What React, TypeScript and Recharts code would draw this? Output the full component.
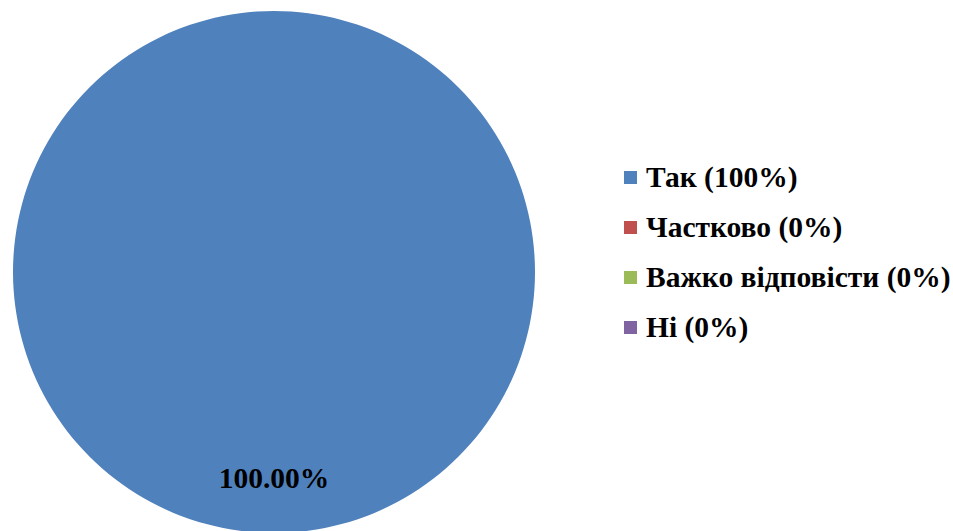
import { PieChart, Pie, Cell, Legend } from 'recharts'

const categories = ['Так (100%)', 'Частково (0%)', 'Важко відповісти (0%)', 'Ні (0%)']
const values = [100, 0, 0, 0]
const colors = ['#4F81BD', '#C0504D', '#9BBB59', '#8064A2']

const data = categories.map((name, i) => ({ name, value: values[i] }))
const total = values.reduce((a, b) => a + b, 0)

const FONT = '"Liberation Serif", "Times New Roman", serif'

const RADIAN = Math.PI / 180

const renderLabel = ({ cx, cy, midAngle, outerRadius, value }: any) => {
  if (!value) return null
  const r = outerRadius * 0.79
  const x = cx + r * Math.cos(-midAngle * RADIAN)
  const y = cy + r * Math.sin(-midAngle * RADIAN)
  return (
    <text x={x} y={y} textAnchor="middle" dominantBaseline="central"
      fontFamily={FONT} fontWeight="bold" fontSize={29.5} fill="#000">
      {((value / total) * 100).toFixed(2)}%
    </text>
  )
}

const renderLegend = ({ payload }: any) => {
  const items = [...(payload || [])].sort(
    (a: any, b: any) => categories.indexOf(a.value) - categories.indexOf(b.value))
  return (
    <div style={{ fontFamily: FONT, fontWeight: 'bold', fontSize: 29.5, color: '#000' }}>
      {items.map((p: any) => (
        <div key={p.value} style={{ display: 'flex', alignItems: 'center', height: 50 }}>
          <span style={{ width: 13, height: 13, background: p.color, display: 'inline-block', marginRight: 9 }} />
          <span>{p.value}</span>
        </div>
      ))}
    </div>
  )
}

export default function App() {
  return (
    <div style={{ position: 'absolute', left: 0, top: 0, background: '#fff' }}>
      <PieChart width={953} height={531} margin={{ top: 0, right: 0, bottom: 0, left: 0 }}>
        <Pie data={data} dataKey="value" nameKey="name" cx={274} cy={272} outerRadius={261}
          startAngle={90} endAngle={-270} stroke="none" label={renderLabel} labelLine={false}
          isAnimationActive={false}>
          {data.map((d, i) => <Cell key={d.name} fill={colors[i]} />)}
        </Pie>
        <Legend content={renderLegend}
          wrapperStyle={{ position: 'absolute', left: 624, top: 152, width: 329 }} />
      </PieChart>
    </div>
  )
}
